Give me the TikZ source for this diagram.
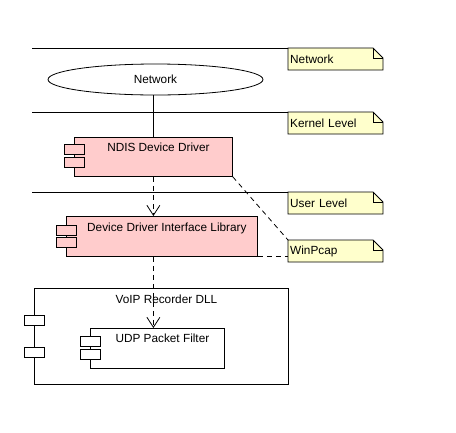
\documentclass[tikz,border=0pt]{standalone}
\usepackage{fontspec}
\setmainfont{Liberation Sans}
\usetikzlibrary{shapes.geometric, positioning, arrows.meta}
\definecolor{CompPink}{HTML}{FFCCCC}
\definecolor{NoteYellow}{HTML}{FFFFCC}

\begin{document}
\begin{tikzpicture}[x=1pt, y=-1pt,
                every node/.style={font=\fontsize{11.8}{14}\selectfont},
                comp/.style={rectangle, draw=black, line width=0.8pt, fill=CompPink, inner sep=0pt, anchor=north west},
                lib/.style={comp, fill=white},
                tab/.style={draw=black, line width=0.8pt},
                comptitle/.style={inner sep=0pt, xshift=5pt},
                note/.style={rectangle, inner xsep=2pt, inner ysep=0pt, text width=91pt, minimum height=22pt, align=left, anchor=north west},
                notebox/.style={draw=black, line width=0.8pt, fill=NoteYellow},
                level/.style={black, line width=0.8pt},
                dep/.style={line width=0.8pt, dash pattern=on 5pt off 4pt, -{Straight Barb[length=10pt, width=13pt]}},
                notelink/.style={line width=0.8pt, dash pattern=on 5pt off 4pt}
            ]
                \useasboundingbox (0,0) rectangle (456,432);

                % Notes
                \foreach \n/\y/\t in {notenet/48/Network, notekernel/112/Kernel Level, noteuser/192/User Level, notewin/240/WinPcap} {
                    \filldraw[notebox] (288,\y) -- ++(85,0) -- ++(10,10) -- ++(0,12) -- ++(-95,0) -- cycle;
                    \draw[notebox, fill=none] (373,\y) |- ++(10,10);
                    \node[note] (\n) at (288,\y) {\t};
                }

                % Level lines
                \coordinate (edge) at (32,0);
                \foreach \n in {notenet, notekernel, noteuser} {
                    \draw[level] (\n.north west -| edge) -- (\n.north west);
                }

                % Network
                \node[ellipse, draw, line width=0.8pt, minimum width=215pt, minimum height=31pt, inner sep=0pt] (net) at (155.5,79.5) {Network};

                % Components
                \node[comp, minimum width=158pt, minimum height=39pt] (ndis) at (74,137) {};
                \node[comp, minimum width=191pt, minimum height=40pt] (ddil) at (66,216) {};
                \node[lib, minimum width=254pt, minimum height=96pt] (voip) at (34,288) {};
                \node[lib, minimum width=134pt, minimum height=40pt] (udp) at (90,328) {};

                \foreach \c/\a/\b/\f in {ndis/7/20/CompPink, ddil/9/21/CompPink, voip/27/59/white, udp/8/21/white} {
                    \draw[tab, fill=\f] ([shift={(-10,\a)}]\c.north west) rectangle ++(20,10);
                    \draw[tab, fill=\f] ([shift={(-10,\b)}]\c.north west) rectangle ++(20,10);
                }

                \node[comptitle, below=6pt of ndis.north] {NDIS Device Driver};
                \node[comptitle, below=7pt of ddil.north] {Device Driver Interface Library};
                \node[comptitle, below=7pt of voip.north] {VoIP Recorder DLL};
                \node[comptitle, below=6pt of udp.north] {UDP Packet Filter};

                % Connections
                \draw[level] (ndis.north |- net.south) -- (ndis.north);
                \draw[dep] (ndis.south) -- (ndis.south |- ddil.north);
                \draw[dep] (ndis.south |- ddil.south) -- (ndis.south |- udp.north);
                \draw[notelink] (ndis.south east) -- (notewin.north west);
                \draw[notelink] (ddil.south east) -- (ddil.south east -| notewin.west);
            \end{tikzpicture}
\end{document}
